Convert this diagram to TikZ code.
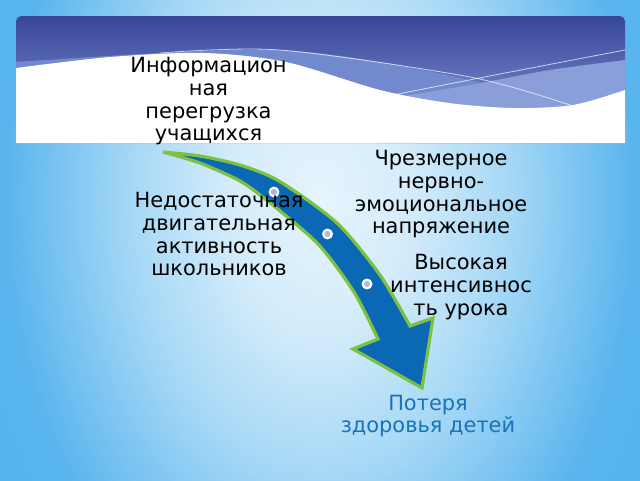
\documentclass[tikz,border=0pt]{standalone}
\usepackage{fontspec}
\setmainfont{DejaVu Sans}
\definecolor{bg0}{HTML}{E6F4FD}
\definecolor{bg1}{HTML}{D4ECFA}
\definecolor{bg2}{HTML}{A6D8F6}
\definecolor{bg3}{HTML}{5AB5EE}
\definecolor{bg4}{HTML}{4DAFEB}
\definecolor{bantop}{HTML}{38469A}
\definecolor{banbot}{HTML}{8A9DDA}
\definecolor{bandA}{HTML}{7389CE}
\definecolor{bandB}{HTML}{8A9EDA}
\definecolor{arrfill}{HTML}{0A68B4}
\definecolor{arrline}{HTML}{7CC242}
\definecolor{dotin}{HTML}{B4B4DE}
\definecolor{losscol}{HTML}{1A72B9}
\pgfdeclareradialshading{bgsh}{\pgfpoint{0bp}{0bp}}{color(0bp)=(bg0); color(5bp)=(bg1); color(10.5bp)=(bg2); color(17.5bp)=(bg3); color(25bp)=(bg4); color(50bp)=(bg4)}
\tikzset{
  lbl/.style={font=\fontsize{15.7}{17}\selectfont, align=center, inner sep=0pt, text=black},
  dotc/.style={circle, draw=white, line width=1.6pt, fill=dotin, minimum size=6.5pt, inner sep=0pt},
  arrowshape/.style={fill=arrfill, draw=arrline, line width=2.4pt, line join=miter, miter limit=3},
  thinwave/.style={draw=white, draw opacity=0.7, line width=0.6pt},
}
\begin{document}
\begin{tikzpicture}[x=0.75pt, y=-0.75pt]
\useasboundingbox (0,0) rectangle (640,480);
% background
\begin{scope}
\clip (0,0) rectangle (640,480);
\shade[shading=bgsh] (320,200) ellipse[x radius=337.5pt, y radius=487.5pt];
\end{scope}
% banner
\shade[top color=bantop, bottom color=banbot, rounded corners=4pt] (16,16) rectangle (625,143);
\begin{scope}
\clip (16,16) rectangle (625,143);
\fill[bandA] plot[smooth] coordinates {(16,62) (160,53) (280,50) (380,62) (470,80) (570,105) (625,120)} -- (625,143) -- (16,143) -- cycle;
\fill[bandB] plot[smooth] coordinates {(380,100) (470,85) (550,70) (625,60)} -- (625,143) -- (380,143) -- cycle;
\fill[white] plot[smooth] coordinates {(16,68) (110,57) (204,53) (286,62) (380,90) (449,103) (513,108) (573,105) (625,90)} -- (625,143) -- (16,143) -- cycle;
\draw[thinwave] plot[smooth] coordinates {(160,53) (280,50) (470,77) (570,105)};
\draw[thinwave] plot[smooth] coordinates {(393,95) (500,74) (625,50)};
\end{scope}
% arrow
\path[arrowshape] plot[smooth, tension=0.45] coordinates {(163,152) (200,156) (240,165) (279,181) (337,223) (380,275) (410,326)} -- (433,318) -- (422,388) -- (353,349) -- (378,339) -- plot[smooth, tension=0.45] coordinates {(378,339) (354,292) (318,244) (269,202) (240,181) (200,163) (163,152)} -- cycle;
\node[dotc] (d1) at (274,192) {};
\node[dotc] (d2) at (327.5,234) {};
\node[dotc] (d3) at (367,284) {};
% labels
\node[lbl] (info) at (208.5,101.5) {Информацион\\ная\\перегрузка\\учащихся};
\node[lbl] (stress) at (441,194.5) {Чрезмерное\\нервно-\\эмоциональное\\напряжение};
\node[lbl] (motion) at (219,234.5) {Недостаточная\\двигательная\\активность\\школьников};
\node[lbl] (intens) at (461,287) {Высокая\\интенсивнос\\ть урока};
\node[lbl, text=losscol] (loss) at (428,416) {Потеря\\здоровья детей};
\end{tikzpicture}
\end{document}
